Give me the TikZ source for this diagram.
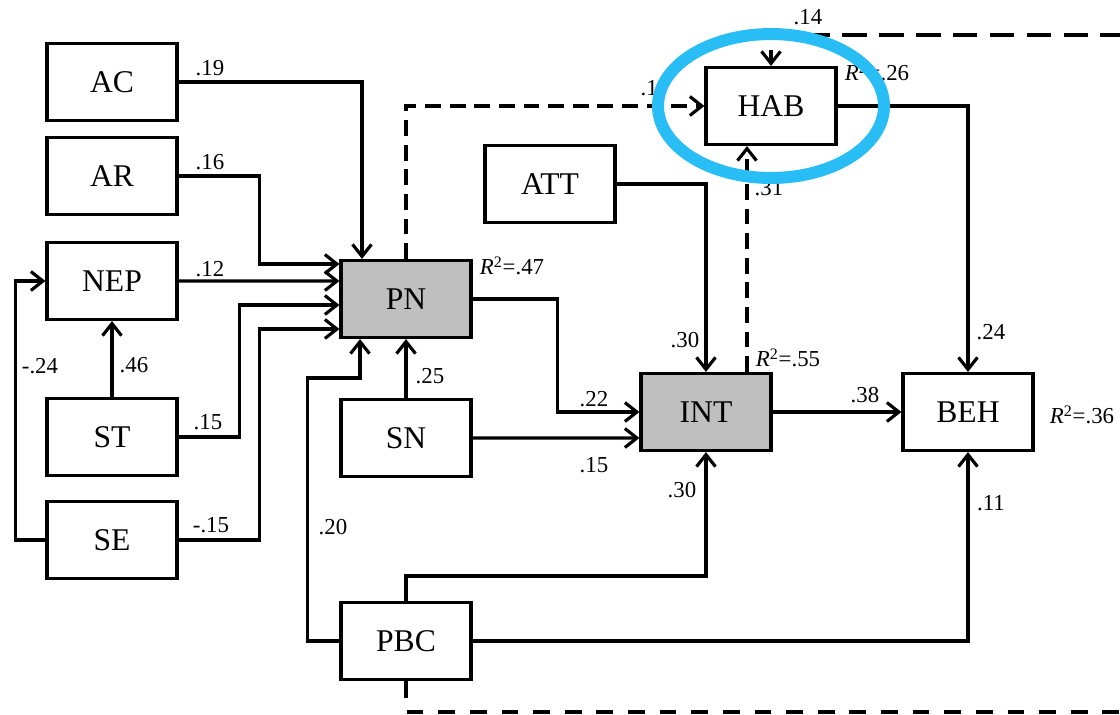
\documentclass[tikz,border=0pt]{standalone}
\usepackage{fontspec}
\setmainfont{Liberation Serif}
\usepackage{tikz}
\usetikzlibrary{arrows.meta,positioning}
\definecolor{ringblue}{RGB}{41,189,245}

\begin{document}
\begin{tikzpicture}[
    x=0.02cm, y=-0.02cm,
    box/.style={rectangle, draw=black, line width=1.8pt, align=center, minimum width=2.6cm, minimum height=1.54cm, inner sep=0pt, font=\fontsize{18}{20}\selectfont},
    shaded/.style={box, fill=black!25},
    arrow/.style={-{Straight Barb[length=2.4mm,width=3.8mm]}, line width=1.8pt},
    dasharrow/.style={arrow, dash pattern=on 9pt off 5pt},
    coef/.style={inner sep=0pt, font=\fontsize{13}{15}\selectfont},
    ring/.style={draw=ringblue, line width=0.24cm}
]
\useasboundingbox (0,0) rectangle (1120,714);

\node[box] (AC) at (112,82) {AC};
\node[box] (AR) at (112,176) {AR};
\node[box] (NEP) at (112,281) {NEP};
\node[box] (ST) at (112,437) {ST};
\node[box] (SE) at (112,540) {SE};
\node[shaded] (PN) at (406,299) {PN};
\node[box] (SN) at (406,438) {SN};
\node[box] (PBC) at (406,641) {PBC};
\node[box] (ATT) at (550,184) {ATT};
\node[box] (HAB) at (771,106) {HAB};
\node[shaded] (INT) at (706,412) {INT};
\node[box] (BEH) at (968,412) {BEH};
\coordinate (topend) at (1125,35);
\coordinate (botend) at (1125,712);

\draw[arrow] (AC.east) -| ([xshift=-0.88cm]PN.north);
\draw[arrow] (AR.east) -- ++(81,0) |- ([yshift=0.7cm]PN.west);
\draw[arrow] (NEP.east) -- ([yshift=0.36cm]PN.west);
\draw[arrow] (ST.east) -- ++(61,0) |- ([yshift=-0.12cm]PN.west);
\draw[arrow] (SE.east) -- ++(81,0) |- ([yshift=-0.6cm]PN.west);
\draw[arrow] (ST) -- (NEP);
\draw[arrow] (SE.west) -- ++(-30,0) |- (NEP.west);
\draw[arrow] (SN) -- (PN);
\draw[arrow] (PBC.west) -- ++(-32,0) -- ++(0,-263) -| ([xshift=-0.92cm]PN.south);
\draw[dasharrow] (PN.north) |- (HAB.west);
\draw[dasharrow] ([xshift=0.82cm]INT.north) -- ([xshift=0.82cm]INT.north |- HAB.south);
\draw[dasharrow, dash pattern=on 14pt off 7pt] (topend) -| (HAB.north);
\draw[line width=1.8pt, dash pattern=on 9.5pt off 8.5pt] (PBC.south) |- (botend);
\draw[arrow] (ATT.east) -| (INT.north);
\draw[arrow] (PN.east) -- ++(85,0) |- (INT.west);
\draw[arrow] (SN.east) -- ([yshift=-0.52cm]INT.west);
\draw[arrow] (PBC.north) -- ++(0,-25) -| (INT.south);
\draw[arrow] (INT) -- (BEH);
\draw[arrow] (HAB.east) -| (BEH.north);
\draw[arrow] (PBC.east) -| (BEH.south);

\node[coef] (cAC) at (210,68) {.19};
\node[coef] (cAR) at (210,162) {.16};
\node[coef] (cNEP) at (210,269) {.12};
\node[coef] (cST) at (208,422) {.15};
\node[coef] (cSE) at (211,525) {-.15};
\node[coef] (cSTNEP) at (134,365) {.46};
\node[coef] (cSENEP) at (40,366) {-.24};
\node[coef] (cSN) at (430,376) {.25};
\node[coef] (cPBC) at (333,527) {.20};
\node[coef] (cPNHAB) at (655,88) {.17};
\node[coef] (cINTHAB) at (769,188) {.31};
\node[coef] (cHAB) at (808,17) {.14};
\node[coef] (cATT) at (685,340) {.30};
\node[coef] (cPNINT) at (594,399) {.22};
\node[coef] (cSNINT) at (594,465) {.15};
\node[coef] (cPBCINT) at (682,490) {.30};
\node[coef] (cINTBEH) at (865,395) {.38};
\node[coef] (cHABBEH) at (991,332) {.24};
\node[coef] (cPBCBEH) at (991,503) {.11};
\node[coef] (rPN) at (512,266) {{\itshape R}\textsuperscript{2}=.47};
\node[coef] (rINT) at (788,358) {{\itshape R}\textsuperscript{2}=.55};
\node[coef] (rHAB) at (877,72) {{\itshape R}\textsuperscript{2}=.26};
\node[coef] (rBEH) at (1082,415) {{\itshape R}\textsuperscript{2}=.36};

\draw[ring] (HAB.center) ellipse [x radius=2.26cm, y radius=1.44cm];
\end{tikzpicture}
\end{document}
